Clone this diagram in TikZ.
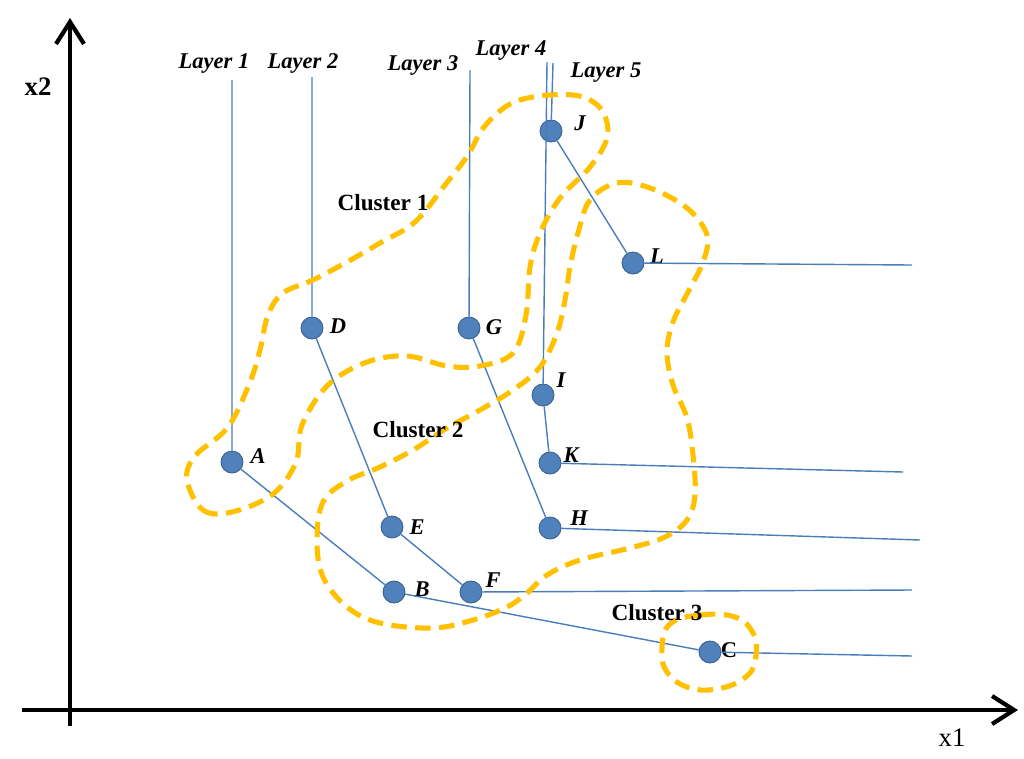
\documentclass[tikz,border=0pt]{standalone}
\usepackage{fontspec}
\setmainfont{Liberation Serif}
\usetikzlibrary{arrows.meta}
\definecolor{lineblue}{RGB}{74,126,187}
\definecolor{nodeblue}{RGB}{79,129,189}
\definecolor{nodeedge}{RGB}{56,93,138}
\definecolor{clorange}{RGB}{255,192,0}
\begin{document}
\begin{tikzpicture}[x=0.025cm,y=-0.025cm,
  pt/.style={circle, fill=nodeblue, draw=nodeedge, line width=0.6pt, minimum size=0.55cm, inner sep=0pt},
  nlab/.style={font=\fontsize{16}{19}\selectfont\bfseries\itshape, inner sep=0pt},
  clab/.style={font=\fontsize{16.5}{19}\selectfont\bfseries, inner sep=0pt},
  link/.style={draw=lineblue, line width=1pt},
  cluster/.style={draw=clorange, line width=3.6pt, dash pattern=on 11pt off 6pt},
  axis/.style={line width=3pt, -{Straight Barb[length=5.5mm,width=7mm]}}]
\useasboundingbox (0,0) rectangle (1024,758);
% axes
\coordinate (yb) at (70,726);
\coordinate (yt) at (70,18);
\coordinate (xl) at (22,710);
\coordinate (xr) at (1018,710);
\draw[axis] (yb) -- (yt);
\draw[axis] (xl) -- (xr);
\node[font=\fontsize{19}{21}\selectfont\bfseries] (x2) at (38,87) {x2};
\node[font=\fontsize{19}{21}\selectfont] (x1) at (952,738) {x1};
% points
\node[pt] (A) at (232,462) {};
\node[pt] (B) at (394,592) {};
\node[pt] (C) at (710,652) {};
\node[pt] (D) at (312,328) {};
\node[pt] (E) at (392,527) {};
\node[pt] (F) at (471,592) {};
\node[pt] (G) at (469,328) {};
\node[pt] (H) at (550,528) {};
\node[pt] (I) at (543,395) {};
\node[pt] (J) at (551,131) {};
\node[pt] (K) at (550,463) {};
\node[pt] (L) at (633,263) {};
% point labels
\node[nlab] (lA) at (258,456) {A};
\node[nlab] (lB) at (422,589) {B};
\node[nlab,font=\fontsize{16}{19}\selectfont\bfseries] (lC) at (729,650) {C};
\node[nlab] (lD) at (338,326) {D};
\node[nlab] (lE) at (417,527) {E};
\node[nlab] (lF) at (493,580) {F};
\node[nlab] (lG) at (494,327) {G};
\node[nlab] (lH) at (579,518) {H};
\node[nlab] (lI) at (561,380) {I};
\node[nlab] (lJ) at (580,123) {J};
\node[nlab] (lK) at (571,455) {K};
\node[nlab] (lL) at (657,256) {L};
% layer tops and right ends
\coordinate (t1) at (232,80);
\coordinate (t2) at (312,77);
\coordinate (t3) at (470,70);
\coordinate (t4) at (547,62);
\coordinate (t5) at (553,63);
\coordinate (eL) at (912,265);
\coordinate (eK) at (903,472);
\coordinate (eH) at (920,540);
\coordinate (eF) at (912,590);
\coordinate (eC) at (912,656);
\node[nlab] (L1) at (214,63) {Layer 1};
\node[nlab] (L2) at (303,63) {Layer 2};
\node[nlab] (L3) at (423,65) {Layer 3};
\node[nlab] (L4) at (511,51) {Layer 4};
\node[nlab] (L5) at (606,73) {Layer 5};
% layer paths
\draw[link] (t1) -- (A) -- (B) -- (C) -- (eC);
\draw[link] (t2) -- (D) -- (E) -- (F) -- (eF);
\draw[link] (t3) -- (G) -- (H) -- (eH);
\draw[link] (t4) -- (I) -- (K) -- (eK);
\draw[link] (t5) -- (J) -- (L) -- (eL);
% clusters
\draw[cluster] plot[smooth cycle, tension=0.6] coordinates {
  (187,480) (203,510) (232,512) (273,494) (296,462) (302,425) (328,385)
  (367,362) (407,356) (447,366) (480,366) (513,353) (526,315) (530,267)
  (540,233) (560,198) (590,167) (607,138) (603,112) (583,97) (550,95)
  (512,103) (484,127) (468,155) (445,185) (415,222) (380,243) (347,262)
  (313,280) (283,293) (268,315) (260,350) (250,382) (228,427) (195,456)};
\draw[cluster] plot[smooth cycle, tension=0.6] coordinates {
  (590,200) (617,183) (650,188) (687,208) (707,235) (703,262) (688,292)
  (673,322) (667,352) (673,385) (687,418) (693,455) (695,495) (687,520)
  (665,537) (630,548) (580,560) (547,575) (527,593) (507,607) (473,620)
  (433,628) (380,623) (347,607) (323,577) (317,540) (323,502) (347,481)
  (380,467) (413,450) (447,428) (480,410) (513,390) (540,367) (557,333)
  (565,300) (570,267) (578,233)};
\draw[cluster] plot[smooth cycle, tension=0.7] coordinates {
  (670,624) (700,615) (735,617) (753,633) (756,655) (748,675) (722,688)
  (690,688) (667,672) (662,648)};
% cluster labels
\node[clab] (c1) at (383,203) {Cluster 1};
\node[clab] (c2) at (418,430) {Cluster 2};
\node[clab] (c3) at (657,613) {Cluster 3};
\end{tikzpicture}
\end{document}
